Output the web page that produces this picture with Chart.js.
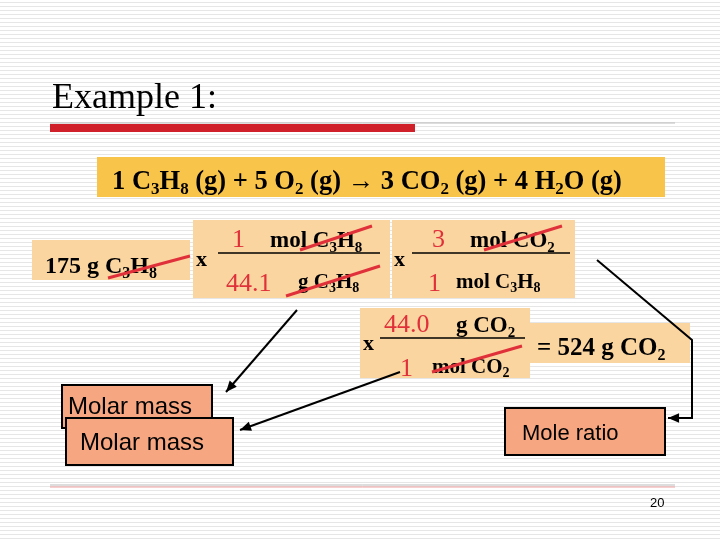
<!DOCTYPE html>
<html><head><meta charset="utf-8">
<script src="https://cdn.jsdelivr.net/npm/chart.js@4"></script>
<style>html,body{margin:0;padding:0;background:#fff}#c{display:block}</style>
</head><body>
<div style="width:720px;height:540px"><canvas id="c"></canvas></div>
<script>
// slide content (text only), "_n" marks a subscript
const title = 'Example 1:';
const equation = '1 C_3H_8 (g) + 5 O_2 (g) \u2192 3 CO_2 (g) + 4 H_2O (g)';
const fracNums = ['1', '3', '44.0'];
const fracNumUnits = ['mol C_3H_8', 'mol CO_2', 'g CO_2'];
const fracDens = ['44.1', '1', '1'];
const fracDenUnits = ['g C_3H_8', 'mol C_3H_8', 'mol CO_2'];
const given = '175 g C_3H_8';
const answer = '= 524 g CO_2';
const labels = ['Molar mass', 'Molar mass', 'Mole ratio'];
const pageNo = '20';

const PEACH = '#fbd5a0', GOLD = '#f8c44a', SALMON = '#f6a680', RED = '#e0313b';

function rich(ctx, s, x, y, size, bold) {
  const f = (sz) => (bold ? 'bold ' : '') + sz + 'px "Liberation Serif", "Times New Roman", serif';
  let cx = x;
  const parts = s.split(/(_\d)/);
  for (const p of parts) {
    if (!p) continue;
    if (p[0] === '_') { ctx.font = f(Math.round(size * 0.65)); ctx.fillText(p[1], cx, y + size * 0.2); cx += ctx.measureText(p[1]).width; }
    else { ctx.font = f(size); ctx.fillText(p, cx, y); cx += ctx.measureText(p).width; }
  }
  return cx;
}
function box(ctx, x, y, w, h, fill, stroke) {
  ctx.fillStyle = fill; ctx.fillRect(x, y, w, h);
  if (stroke) { ctx.strokeStyle = '#000'; ctx.lineWidth = 2; ctx.strokeRect(x, y, w, h); }
}
function line(ctx, x1, y1, x2, y2, col, lw) {
  ctx.strokeStyle = col; ctx.lineWidth = lw; ctx.beginPath(); ctx.moveTo(x1, y1); ctx.lineTo(x2, y2); ctx.stroke();
}
function arrow(ctx, pts) {
  ctx.strokeStyle = '#000'; ctx.lineWidth = 2; ctx.beginPath();
  ctx.moveTo(pts[0][0], pts[0][1]);
  for (const p of pts.slice(1)) ctx.lineTo(p[0], p[1]);
  ctx.stroke();
  const [a, b] = pts.slice(-2), ang = Math.atan2(b[1] - a[1], b[0] - a[0]);
  ctx.fillStyle = '#000'; ctx.beginPath(); ctx.moveTo(b[0], b[1]);
  ctx.lineTo(b[0] - 12 * Math.cos(ang - 0.4), b[1] - 12 * Math.sin(ang - 0.4));
  ctx.lineTo(b[0] - 12 * Math.cos(ang + 0.4), b[1] - 12 * Math.sin(ang + 0.4));
  ctx.closePath(); ctx.fill();
}

const slide = {
  id: 'slide',
  beforeDraw(chart) {
    const ctx = chart.ctx;
    ctx.save();
    ctx.fillStyle = '#fff'; ctx.fillRect(0, 0, 720, 540);
    for (let y = 2; y < 540; y += 4) line(ctx, 0, y + 0.5, 720, y + 0.5, '#e6e6e6', 1);
    ctx.textBaseline = 'alphabetic';
    ctx.fillStyle = '#000'; ctx.font = '36px "Liberation Serif", serif'; ctx.fillText(title, 52, 108);
    line(ctx, 50, 123, 675, 123, '#bbb', 1);
    ctx.fillStyle = '#d0202a'; ctx.fillRect(50, 124, 365, 8);

    box(ctx, 97, 157, 568, 40, GOLD);
    ctx.fillStyle = '#000'; rich(ctx, equation, 112, 189, 26.5, true);

    box(ctx, 32, 240, 158, 40, PEACH);
    box(ctx, 193, 220, 197, 78, PEACH);
    box(ctx, 392, 220, 183, 78, PEACH);
    box(ctx, 360, 308, 170, 70, PEACH);
    box(ctx, 530, 323, 160, 40, PEACH);

    ctx.fillStyle = '#000';
    rich(ctx, given, 45, 273, 24, true);
    ctx.font = 'bold 22px "Liberation Serif", serif';
    ctx.fillText('x', 196, 266); ctx.fillText('x', 394, 266); ctx.fillText('x', 363, 350);
    const fx = [[218, 380], [412, 570], [380, 525]], fy = [253, 253, 338];
    for (let i = 0; i < 3; i++) {
      const [x1, x2] = fx[i], y = fy[i];
      line(ctx, x1, y, x2, y, '#000', 1.5);
      ctx.fillStyle = RED; ctx.font = '26px "Liberation Serif", serif';
      const nx = i === 0 ? 232 : i === 1 ? 432 : 384;
      ctx.fillText(fracNums[i], nx, y - 6);
      ctx.fillText(fracDens[i], i === 0 ? 226 : i === 1 ? 428 : 400, y + 38);
      ctx.fillStyle = '#000';
      const ux = i === 0 ? 270 : i === 1 ? 470 : 456;
      rich(ctx, fracNumUnits[i], ux, y - 6, 23, true);
      rich(ctx, fracDenUnits[i], i === 0 ? 298 : i === 1 ? 456 : 432, y + 35, 21, true);
    }
    rich(ctx, answer, 537, 355, 25, true);

    // cancel marks
    line(ctx, 108, 278, 190, 256, RED, 3);
    line(ctx, 286, 296, 380, 266, RED, 3);
    line(ctx, 300, 250, 372, 226, RED, 3);
    line(ctx, 484, 250, 562, 226, RED, 3);
    line(ctx, 432, 372, 522, 346, RED, 3);

    box(ctx, 62, 385, 150, 43, SALMON, true);
    box(ctx, 66, 418, 167, 47, SALMON, true);
    box(ctx, 505, 408, 160, 47, SALMON, true);
    ctx.fillStyle = '#000'; ctx.font = '24px "Liberation Sans", Arial, sans-serif';
    ctx.fillText(labels[0], 68, 414); ctx.fillText(labels[1], 80, 450);
    ctx.font = '22px "Liberation Sans", Arial, sans-serif'; ctx.fillText(labels[2], 522, 440);

    arrow(ctx, [[297, 310], [226, 392]]);
    arrow(ctx, [[400, 372], [240, 430]]);
    arrow(ctx, [[597, 260], [692, 340], [692, 418], [668, 418]]);

    line(ctx, 50, 485, 675, 485, '#bbb', 1);
    line(ctx, 50, 487, 675, 487, '#f0a0a0', 1);
    ctx.font = '13px "Liberation Sans", Arial, sans-serif'; ctx.fillText(pageNo, 650, 507);
    ctx.restore();
  }
};

new Chart(document.getElementById('c'), {
  type: 'scatter',
  data: { datasets: [{ data: [] }] },
  options: {
    responsive: true, maintainAspectRatio: false, animation: false,
    layout: { padding: 0 },
    plugins: { legend: { display: false }, tooltip: { enabled: false } },
    scales: { x: { display: false, min: 0, max: 720 }, y: { display: false, min: 0, max: 540 } }
  },
  plugins: [slide]
});
</script>
</body></html>
